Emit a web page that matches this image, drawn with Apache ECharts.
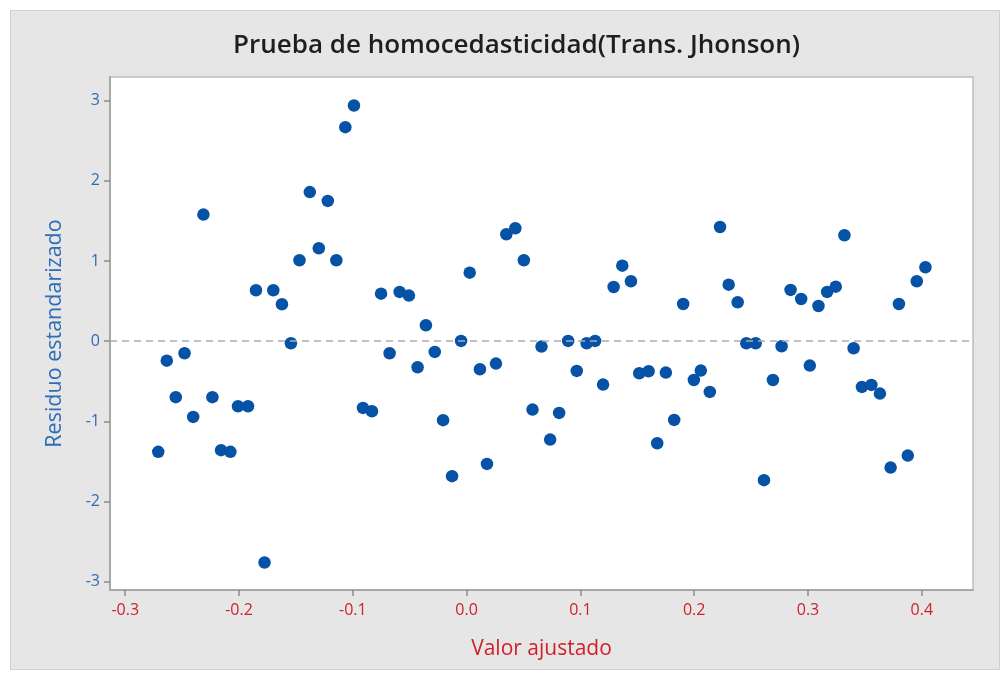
<!DOCTYPE html>
<html><head><meta charset="utf-8">
<script src="https://cdn.jsdelivr.net/npm/echarts@6/dist/echarts.min.js"></script>
<style>html,body{margin:0;padding:0;background:#fff}#c{width:1007px;height:677px}</style>
</head><body><div id="c"></div>
<script>
const xTicks = [-0.3,-0.2,-0.1,0.0,0.1,0.2,0.3,0.4];
const yTicks = [-3,-2,-1,0,1,2,3];
const fitted = [-0.2710,-0.2635,-0.2556,-0.2479,-0.2403,-0.2313,-0.2234,-0.2158,-0.2076,-0.2009,-0.1921,-0.1851,-0.1776,-0.1699,-0.1623,-0.1544,-0.1469,-0.1378,-0.1299,-0.1220,-0.1145,-0.1066,-0.0990,-0.0911,-0.0832,-0.0752,-0.0677,-0.0589,-0.0507,-0.0431,-0.0358,-0.0280,-0.0207,-0.0128,-0.0049,0.0027,0.0117,0.0179,0.0258,0.0349,0.0428,0.0503,0.0579,0.0658,0.0734,0.0813,0.0892,0.0968,0.1055,0.1129,0.1199,0.1292,0.1368,0.1444,0.1517,0.1599,0.1675,0.1751,0.1824,0.1903,0.1997,0.2058,0.2137,0.2227,0.2303,0.2382,0.2458,0.2540,0.2613,0.2692,0.2768,0.2847,0.2940,0.3016,0.3092,0.3168,0.3244,0.3320,0.3401,0.3474,0.3557,0.3632,0.3726,0.3799,0.3877,0.3956,0.4032];
const resid = [-1.380,-0.242,-0.698,-0.150,-0.944,1.58,-0.698,-1.359,-1.380,-0.811,-0.811,0.636,-2.76,0.636,0.461,-0.025,1.01,1.86,1.16,1.75,1.01,2.67,2.94,-0.832,-0.873,0.593,-0.150,0.615,0.569,-0.324,0.199,-0.133,-0.985,-1.683,0.004,0.855,-0.349,-1.530,-0.279,1.334,1.409,1.010,-0.853,-0.067,-1.227,-0.894,0.004,-0.370,-0.025,0.004,-0.541,0.677,0.943,0.748,-0.399,-0.374,-1.272,-0.391,-0.981,0.465,-0.483,-0.366,-0.632,1.425,0.706,0.486,-0.025,-0.025,-1.733,-0.483,-0.062,0.640,0.527,-0.304,0.440,0.615,0.681,1.322,-0.087,-0.570,-0.545,-0.653,-1.576,0.465,-1.426,0.748,0.923];

const font = '"Open Sans", "Noto Sans", sans-serif';
const chart = echarts.init(document.getElementById('c'), null, {renderer:'canvas'});
chart.setOption({
  animation:false,
  backgroundColor:'#ffffff',
  graphic:[{type:'rect', z:-10, shape:{x:10.5,y:10.5,width:989,height:659}, style:{fill:'#e6e6e6', stroke:'#cfcfcf', lineWidth:1}}],
  title:{text:'Prueba de homocedasticidad(Trans. Jhonson)', left:228, top:28,
    textStyle:{fontFamily:font, fontSize:26, fontWeight:600, color:'#1e1e1e'}},
  grid:{left:110, right:34, top:77, bottom:87, show:true, backgroundColor:'#ffffff', borderColor:'#bdbdbd', borderWidth:1.5},
  xAxis:{type:'value', min:-0.3134, max:0.445,
    name:'Valor ajustado', nameLocation:'middle', nameGap:49,
    nameTextStyle:{fontFamily:font, fontSize:21, color:'#d0202a'},
    axisLine:{show:true, onZero:false, lineStyle:{color:'#a8a8a8', width:2}},
    axisTick:{show:true, customValues:xTicks, length:6, lineStyle:{color:'#8c8c8c', width:1.5}},
    axisLabel:{customValues:xTicks, formatter:v=>v.toFixed(1), margin:12, fontFamily:font, fontSize:16, color:'#d0202a'},
    splitLine:{show:false}},
  yAxis:{type:'value', min:-3.103, max:3.296,
    name:'Residuo estandarizado', nameLocation:'middle', nameGap:44,
    nameTextStyle:{fontFamily:font, fontSize:21.5, color:'#2e6cb8'},
    axisLine:{show:true, onZero:false, lineStyle:{color:'#a8a8a8', width:2}},
    axisTick:{show:true, customValues:yTicks, length:6, lineStyle:{color:'#8c8c8c', width:1.5}},
    axisLabel:{customValues:yTicks, formatter:v=>String(Math.round(v)), margin:10, fontFamily:font, fontSize:16, color:'#2e6cb8'},
    splitLine:{show:false}},
  series:[{type:'scatter', symbol:'circle', symbolSize:12.5,
    data: fitted.map((x,i)=>[x, resid[i]]),
    itemStyle:{color:'#0652a6', opacity:1},
    markLine:{silent:true, symbol:'none', label:{show:false},
      lineStyle:{type:[7,5], color:'#acacac', width:1.5},
      data:[{yAxis:0}]}
  }]
});
</script></body></html>
